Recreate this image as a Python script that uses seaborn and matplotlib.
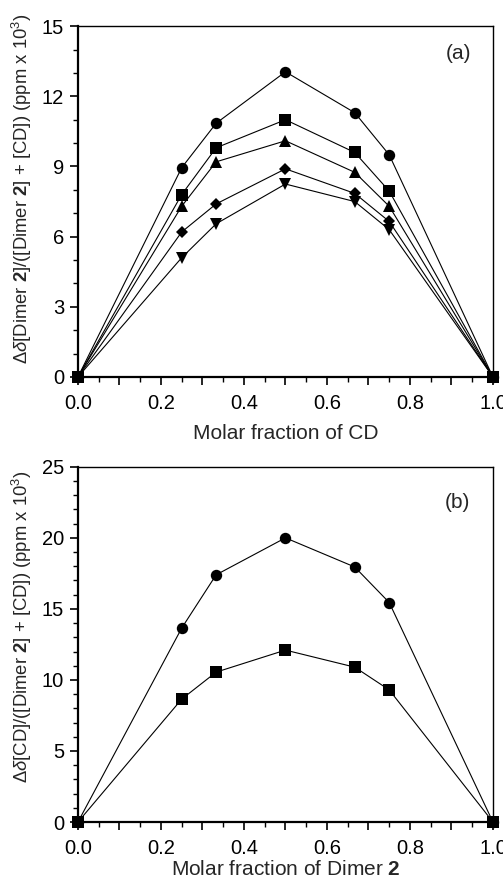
import numpy as np
import pandas as pd
import matplotlib
matplotlib.use("Agg")
import matplotlib.pyplot as plt
import seaborn as sns
from matplotlib.ticker import MultipleLocator, FuncFormatter

x_frac = [0.0, 0.25, 0.333, 0.5, 0.667, 0.75, 1.0]

a_circle = [0.0, 8.95, 10.85, 13.05, 11.3, 9.5, 0.0]
a_square = [0.0, 7.8, 9.8, 11.0, 9.6, 7.95, 0.0]
a_triup = [0.0, 7.3, 9.2, 10.1, 8.75, 7.3, 0.0]
a_diamond = [0.0, 6.2, 7.4, 8.9, 7.85, 6.65, 0.0]
a_tridown = [0.0, 5.1, 6.55, 8.25, 7.5, 6.3, 0.0]

b_circle = [0.0, 13.65, 17.4, 20.0, 17.95, 15.45, 0.0]
b_square = [0.0, 8.65, 10.55, 12.1, 10.9, 9.3, 0.0]

sns.set_theme(style="ticks")
plt.rcParams['font.family'] = ['Liberation Sans', 'DejaVu Sans']
plt.rcParams['mathtext.fontset'] = 'custom'
plt.rcParams['mathtext.rm'] = 'Liberation Sans'
plt.rcParams['mathtext.it'] = 'Liberation Sans:italic'
plt.rcParams['mathtext.bf'] = 'Liberation Sans:bold'

fig = plt.figure(figsize=(5.03, 8.88), dpi=100)
ax1 = fig.add_axes([0.155, 0.5755, 0.825, 0.395])
ax2 = fig.add_axes([0.155, 0.0743, 0.825, 0.400])


def draw(ax, series, markers):
    rows = []
    for name, vals in series:
        for xv, yv in zip(x_frac, vals):
            rows.append({"x": xv, "y": yv, "s": name})
    df = pd.DataFrame(rows)
    names = [n for n, _ in series]
    sns.lineplot(data=df, x="x", y="y", hue="s", style="s",
                 hue_order=names, style_order=names,
                 palette=["black"] * len(names),
                 markers=markers, dashes=False, markersize=8.2,
                 markeredgewidth=0, linewidth=0.8, legend=False, ax=ax,
                 sort=False)
    for ln in ax.lines:
        ln.set_clip_on(False)
        if ln.get_marker() == 's':
            ln.set_zorder(5)
            ln.set_markersize(8.0)
        if ln.get_marker() == 'D':
            ln.set_markersize(6.0)


draw(ax1, [("circle", a_circle), ("triup", a_triup), ("diamond", a_diamond),
           ("tridown", a_tridown), ("square", a_square)],
     ["o", "^", "D", "v", "s"])
draw(ax2, [("circle", b_circle), ("square", b_square)], ["o", "s"])


def xfmt(v, pos):
    k = int(round(v * 10))
    return "%.1f" % v if k % 2 == 0 else ""


for ax, ymax, ystep in [(ax1, 15, 3), (ax2, 25, 5)]:
    ax.set_xlim(0, 1.0)
    ax.set_ylim(0, ymax)
    ax.xaxis.set_major_locator(MultipleLocator(0.1))
    ax.xaxis.set_minor_locator(MultipleLocator(0.05))
    ax.yaxis.set_major_locator(MultipleLocator(ystep))
    ax.yaxis.set_minor_locator(MultipleLocator(1))
    ax.xaxis.set_major_formatter(FuncFormatter(xfmt))
    ax.tick_params(axis='both', which='major', labelsize=14.5, length=6,
                   width=1.2, direction='out', color='black',
                   labelcolor='black', pad=4)
    ax.tick_params(axis='x', which='major', pad=6)
    ax.tick_params(axis='both', which='minor', length=3.5, width=1.0,
                   direction='out', color='black')
    for sp in ax.spines.values():
        sp.set_visible(True)
        sp.set_linewidth(1.0)
        sp.set_color('black')
    ax.spines['left'].set_linewidth(1.6)
    ax.spines['bottom'].set_linewidth(1.6)

ax1.set_xlabel("Molar fraction of CD", fontsize=15)
ax1.xaxis.label.set_va('center')
ax1.xaxis.set_label_coords(0.5, -0.16)
ax1.set_ylabel(r"$\Delta\mathit{\delta}$[Dimer $\mathbf{2}$]/([Dimer $\mathbf{2}$] + [CD]) (ppm x 10$^3$)",
               fontsize=13.3)
ax1.yaxis.label.set_va('center')
ax1.yaxis.set_label_coords(-0.135, 0.536)

ax2.set_xlabel(r"Molar fraction of Dimer $\mathbf{2}$", fontsize=15)
ax2.xaxis.label.set_va('center')
ax2.xaxis.set_label_coords(0.5, -0.135)
ax2.set_ylabel(r"$\Delta\mathit{\delta}$[CD]/([Dimer $\mathbf{2}$] + [CD]) (ppm x 10$^3$)",
               fontsize=13.3)
ax2.yaxis.label.set_va('center')
ax2.yaxis.set_label_coords(-0.135, 0.55)

ax1.text(0.916, 0.923, "(a)", transform=ax1.transAxes, fontsize=15,
         ha='center', va='center')
ax2.text(0.914, 0.90, "(b)", transform=ax2.transAxes, fontsize=15,
         ha='center', va='center')

fig.savefig("out.png", dpi=100, facecolor='white')
